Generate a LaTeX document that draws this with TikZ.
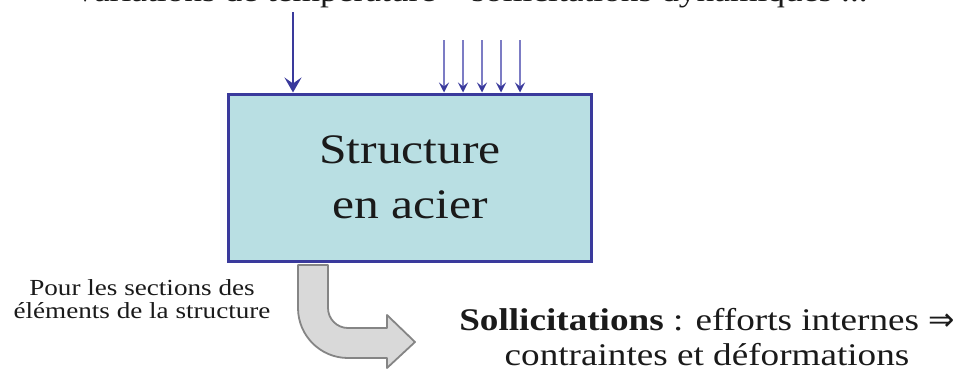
\documentclass[tikz,border=0pt]{standalone}
\usepackage{fontspec}
\setmainfont[FakeStretch=1.18]{Liberation Serif}
\newfontfamily\symfont{DejaVu Sans}
\usetikzlibrary{arrows.meta}
\definecolor{boxblue}{HTML}{3A3A9C}
\definecolor{boxfill}{HTML}{B9DFE3}
\definecolor{lightline}{HTML}{7C7CC4}
\definecolor{grayfill}{HTML}{D9D9D9}
\definecolor{grayline}{HTML}{858585}
\definecolor{textcol}{HTML}{1A1A1A}
\tikzset{
  bigload/.style={draw=boxblue, line width=2.6pt, -{Stealth[length=15pt,width=17pt,inset=6pt]}},
  smallload/.style={draw=lightline, line width=1.6pt, -{Stealth[length=10pt,width=10pt,inset=4pt,color=boxblue]}},
  structbox/.style={draw=boxblue, line width=3pt, fill=boxfill, minimum width=363pt, minimum height=167pt, inner sep=0pt},
  bendarrow/.style={draw=grayline, line width=1.8pt, fill=grayfill, line join=round},
  lbl/.style={inner sep=0pt, align=center, text=textcol},
  toplbl/.style={inner sep=0pt, text=textcol}
}
\begin{document}
\begin{tikzpicture}[x=1pt,y=-1pt]
\useasboundingbox (0,0) rectangle (966,376);
\clip (0,0) rectangle (966,376);
\node[toplbl, anchor=base, font=\fontsize{30}{34}\selectfont] (top) at (470,1.5) {Variations de température -- sollicitations dynamiques ...};
\node[structbox, lbl, font=\fontsize{42}{55}\selectfont] (box) at (410,177.5) {Structure\\en acier};
\coordinate (b0) at (293,12);
\draw[bigload] (b0) -- (b0 |- box.north);
\foreach \i/\x in {1/444,2/463,3/482,4/501,5/520}{
  \coordinate (s\i) at (\x,40);
  \draw[smallload] (s\i) -- (s\i |- box.north);
}
\draw[bendarrow] (298,265) -- (298,308) .. controls (298,335.6) and (320.4,358) .. (348,358) -- (387,358) -- (387,368) -- (415,342) -- (387,315) -- (387,328) -- (348,328) .. controls (337,328) and (328,319) .. (328,308) -- (328,265) -- cycle;
\node[lbl, anchor=base, font=\fontsize{23}{23}\selectfont] (left) at (142,318) {Pour les sections des\\éléments de la structure};
\node[lbl, anchor=base, font=\fontsize{31.5}{35}\selectfont] (right) at (707,365) {\textbf{Sollicitations} : efforts internes {\symfont ⇒}\\contraintes et déformations};
\end{tikzpicture}
\end{document}
